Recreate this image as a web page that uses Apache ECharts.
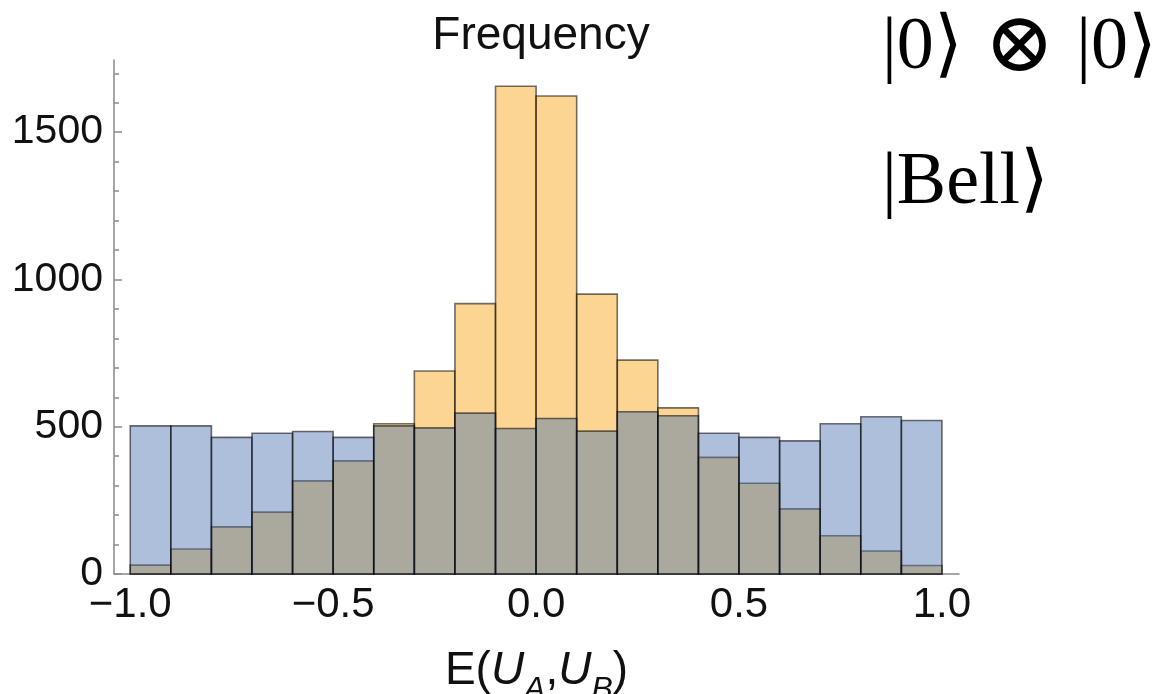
<!DOCTYPE html>
<html>
<head>
<meta charset="utf-8">
<script src="https://cdn.jsdelivr.net/npm/echarts@6/dist/echarts.min.js"></script>
<style>
    html, body { margin: 0; padding: 0; background: #ffffff; }
    #chart { width: 1168px; height: 694px; }
</style>
</head>
<body>
<div id="chart"></div>
<script>
// bins of E(U_A, U_B), width 0.1
const binEdges = [-1.0, -0.9, -0.8, -0.7, -0.6, -0.5, -0.4, -0.3, -0.2, -0.1, 0.0,
                  0.1, 0.2, 0.3, 0.4, 0.5, 0.6, 0.7, 0.8, 0.9, 1.0];

// counts per bin
const productCounts = [30, 85, 160, 210, 316, 384, 510, 689, 918, 1656,
                       1623, 950, 726, 564, 396, 308, 221, 130, 78, 29];
const bellCounts = [503, 503, 464, 478, 484, 464, 503, 496, 546, 494,
                    528, 485, 551, 537, 478, 464, 452, 510, 534, 521];

const seriesNames = ["|0\u27E9 \u2297 |0\u27E9", "|Bell\u27E9"];
const xTickValues = [-1.0, -0.5, 0.0, 0.5, 1.0];
const yTickValues = [0, 500, 1000, 1500];

const EDGE = "rgba(0,0,0,0.55)";
const SANS = "Liberation Sans";
const SERIF = "Liberation Serif";

function binData(counts) {
    return counts.map((c, i) => [binEdges[i], binEdges[i + 1], c]);
}

function binRenderer(fill) {
    return function (params, api) {
        const topLeft = api.coord([api.value(0), api.value(2)]);
        const bottomRight = api.coord([api.value(1), 0]);
        return {
            type: "rect",
            shape: {
                x: topLeft[0],
                y: topLeft[1],
                width: bottomRight[0] - topLeft[0],
                height: bottomRight[1] - topLeft[1]
            },
            style: { fill: fill, stroke: EDGE, lineWidth: 1.6 }
        };
    };
}

function fmtTick(v) {
    return Number(v).toFixed(1).replace("-", "\u2212");
}

// legend label: the tensor sign is set larger, as in the picture
function fmtLegend(name) {
    return name.split(" ").map(part => part === "\u2297" ? "{o|" + part + "}" : "{k|" + part + "}").join("{k| }");
}

const chart = echarts.init(document.getElementById("chart"));

chart.setOption({
    animation: false,
    backgroundColor: "#ffffff",
    title: {
        text: "Frequency",
        left: 536,
        top: 8,
        textAlign: "center",
        textStyle: { fontFamily: SANS, fontSize: 46, fontWeight: "normal", color: "#111" }
    },
    legend: {
        orient: "vertical",
        left: 872,
        top: 2,
        itemWidth: 0,
        itemHeight: 0,
        itemGap: 55,
        selectedMode: false,
        data: seriesNames,
        formatter: fmtLegend,
        textStyle: {
            fontFamily: SERIF,
            fontSize: 74,
            lineHeight: 76,
            color: "#000",
            rich: {
                k: { fontFamily: SERIF, fontSize: 74, lineHeight: 76, color: "#000" },
                o: { fontFamily: "DejaVu Serif", fontSize: 84, lineHeight: 76, color: "#000", padding: [0, 3, 0, 3] }
            }
        }
    },
    grid: {
        left: 114,
        right: 209,
        top: 60,
        bottom: 120,
        containLabel: false,
        outerBoundsMode: "none"
    },
    xAxis: {
        type: "value",
        min: -1.04,
        max: 1.042,
        splitNumber: 4,
        splitLine: { show: false },
        axisLine: { show: true, onZero: false, lineStyle: { color: "#8a8a8a", width: 1.5 } },
        axisTick: { show: false },
        axisLabel: {
            customValues: xTickValues,
            formatter: fmtTick,
            fontFamily: SANS,
            fontSize: 42,
            color: "#111",
            margin: 10
        },
        name: "{n|E(}{i|U}{s|A}{n|,}{i|U}{s|B}{n|)}",
        nameLocation: "middle",
        nameGap: 74,
        nameTextStyle: {
            rich: {
                n: { fontFamily: SANS, fontSize: 46, color: "#111", verticalAlign: "top", lineHeight: 50 },
                i: { fontFamily: SANS, fontSize: 46, fontStyle: "italic", color: "#111", verticalAlign: "top", lineHeight: 50 },
                s: { fontFamily: SANS, fontSize: 32, fontStyle: "italic", color: "#111", verticalAlign: "top", lineHeight: 34, padding: [26, 0, 0, 0] }
            }
        }
    },
    yAxis: {
        type: "value",
        min: 0,
        max: 1745,
        interval: 500,
        splitLine: { show: false },
        axisLine: { show: true, onZero: false, lineStyle: { color: "#8a8a8a", width: 1.5 } },
        axisTick: {
            show: true,
            inside: true,
            length: 8,
            customValues: yTickValues,
            lineStyle: { color: "#8a8a8a", width: 1.5 }
        },
        minorTick: {
            show: true,
            splitNumber: 5,
            length: 5,
            lineStyle: { color: "#8a8a8a", width: 1.5 }
        },
        axisLabel: {
            customValues: yTickValues,
            formatter: v => String(v),
            fontFamily: SANS,
            fontSize: 41,
            color: "#111",
            margin: 11
        }
    },
    series: [
        {
            name: seriesNames[0],
            type: "custom",
            renderItem: binRenderer("rgba(246,162,11,0.45)"),
            encode: { x: [0, 1], y: 2 },
            data: binData(productCounts)
        },
        {
            name: seriesNames[1],
            type: "custom",
            renderItem: binRenderer("rgba(73,113,175,0.45)"),
            encode: { x: [0, 1], y: 2 },
            data: binData(bellCounts)
        }
    ]
});
</script>
</body>
</html>
